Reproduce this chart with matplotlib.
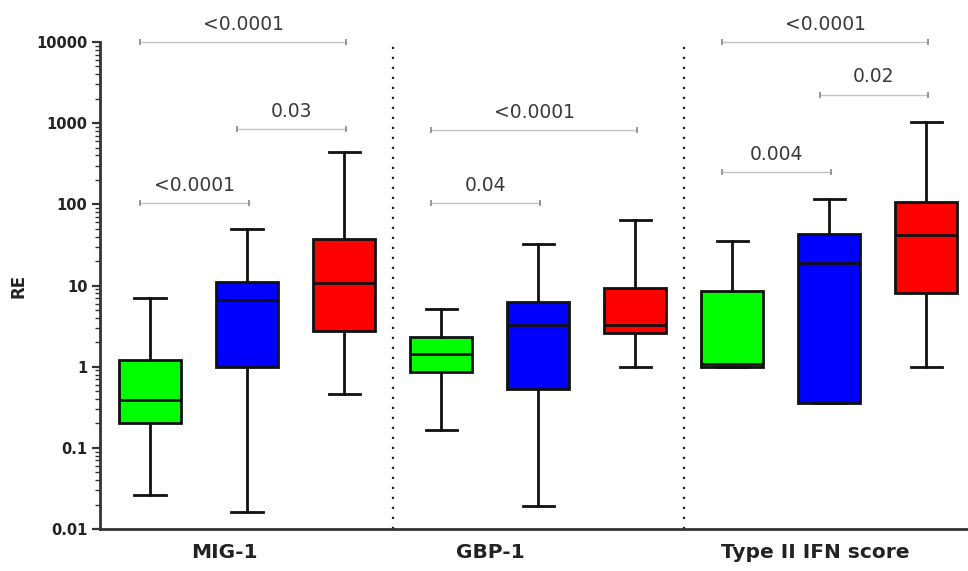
import numpy as np
import matplotlib
matplotlib.use("Agg")
import matplotlib.pyplot as plt
from matplotlib.ticker import FixedLocator, LogLocator, NullFormatter

# ---------------- data ----------------
groups = ["MIG-1", "GBP-1", "Type II IFN score"]
series_colors = ["#00FF00", "#0000FF", "#FF0000"]

# five-number summaries per box, order: MIG-1 (g,b,r), GBP-1 (g,b,r), Type II IFN (g,b,r)
whislo = [0.026, 0.016, 0.46,   0.166, 0.0194, 1.0,   1.0, 0.36, 1.0]
q1     = [0.20,  1.0,   2.74,   0.865, 0.525,  2.57,  1.0, 0.36, 8.1]
med    = [0.39,  6.7,   10.6,   1.42,  3.22,   3.25,  1.08, 18.7, 41.8]
q3     = [1.2,   11.1,  37.0,   2.33,  6.3,    9.2,   8.5, 42.6, 107.0]
whishi = [7.0,   49.5,  436.0,  5.08,  32.3,   65.0,  35.0, 115.0, 1030.0]

# significance brackets: (left box index, right box index, y value, label)
brackets = [
    (0, 2, 10000, "<0.0001"),
    (1, 2, 850,   "0.03"),
    (0, 1, 104,   "<0.0001"),
    (3, 5, 820,   "<0.0001"),
    (3, 4, 104,   "0.04"),
    (6, 8, 10000, "<0.0001"),
    (7, 8, 2250,  "0.02"),
    (6, 7, 250,   "0.004"),
]

ytick_vals = [0.01, 0.1, 1, 10, 100, 1000, 10000]
ytick_labels = ["0.01", "0.1", "1", "10", "100", "1000", "10000"]

# ---------------- figure ----------------
plt.rcParams["font.family"] = ["DejaVu Sans"]
fig = plt.figure(figsize=(9.68, 5.71), dpi=100)
ax = fig.add_axes([100 / 968, 42 / 571, 868 / 968, 487 / 571])

positions = np.arange(len(med))
stats = []
for i in range(len(med)):
    stats.append(dict(whislo=whislo[i], q1=q1[i], med=med[i], q3=q3[i],
                      whishi=whishi[i], fliers=[]))

lw = 2.0
bp = ax.bxp(stats, positions=positions, widths=0.64, patch_artist=True,
            showfliers=False, capwidths=0.32,
            boxprops=dict(linewidth=lw, edgecolor="#111111"),
            whiskerprops=dict(linewidth=lw, color="#111111"),
            capprops=dict(linewidth=lw, color="#111111"),
            medianprops=dict(linewidth=lw, color="#111111"))
for i, patch in enumerate(bp["boxes"]):
    patch.set_facecolor(series_colors[i % 3])

ax.set_yscale("log")
ax.set_ylim(0.01, 10000)
ax.set_xlim(-0.515, 8.43)

# group separators
for xs in [2.5, 5.5]:
    ax.axvline(xs, color="#222222", linestyle=(0, (1, 3.5)), linewidth=1.6,
               zorder=1)

# brackets
for (i, j, yv, lab) in brackets:
    x0, x1 = i - 0.1, j + 0.02
    ax.plot([x0, x1], [yv, yv], color="#c4c4c4", linewidth=1.0,
            clip_on=False, zorder=2)
    ax.plot([x0, x1], [yv, yv], linestyle="none", marker="|", markersize=4,
            markeredgewidth=1.2, color="#888888", clip_on=False, zorder=2)
    ax.annotate(lab, xy=((x0 + x1) / 2, yv), xytext=(0, 8.8),
                textcoords="offset points", ha="center", va="baseline",
                fontsize=13.5, color="#3a3a3a", annotation_clip=False)

# y axis
ax.yaxis.set_major_locator(FixedLocator(ytick_vals))
ax.set_yticklabels(ytick_labels, fontweight="bold", fontsize=10.5,
                   color="#222222")
ax.yaxis.set_minor_locator(LogLocator(base=10, subs=np.arange(2, 10),
                                      numticks=20))
ax.yaxis.set_minor_formatter(NullFormatter())
ax.tick_params(axis="y", which="major", length=6, width=1.6, pad=3,
               color="#333333")
ax.tick_params(axis="y", which="minor", length=3.5, width=1.0,
               color="#333333")
ax.set_ylabel("RE", fontweight="bold", fontsize=12, color="#222222")
ax.yaxis.set_label_coords(-0.084, 0.5)

# x axis
group_centers = [1, 4, 7]
label_offsets = [-0.23, -0.49, -0.14]
ax.set_xticks([c + o for c, o in zip(group_centers, label_offsets)])
ax.set_xticklabels(groups, fontweight="bold", fontsize=14.5, color="#222222")
ax.tick_params(axis="x", which="both", length=0, pad=10)

for s in ["top", "right"]:
    ax.spines[s].set_visible(False)
for s in ["left", "bottom"]:
    ax.spines[s].set_linewidth(2.0)
    ax.spines[s].set_color("#333333")

fig.savefig("out.png", dpi=100)
